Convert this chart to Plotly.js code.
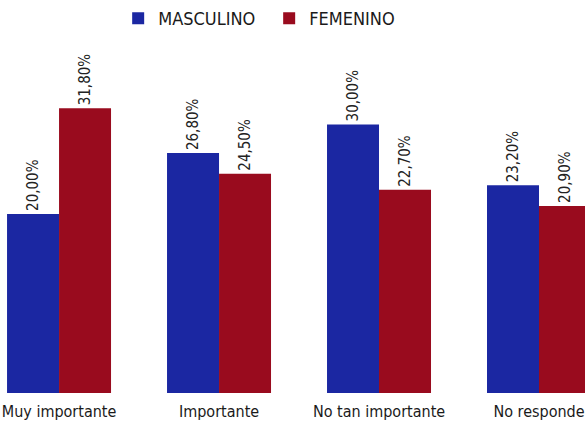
<!DOCTYPE html>
<html>
<head>
<meta charset="utf-8">
<script src="https://cdn.plot.ly/plotly-3.0.1.min.js"></script>
<style>html,body{margin:0;padding:0;background:#fff;}#chart{width:585px;height:428px;}</style>
</head>
<body>
<div id="chart"></div>
<script>
const categories = ["Muy importante", "Importante", "No tan importante", "No responde"];
const masculino = [20.0, 26.8, 30.0, 23.2];
const femenino = [31.8, 24.5, 22.7, 20.9];
const seriesNames = ["MASCULINO", "FEMENINO"];

const FONT = '"Liberation Sans Narrow", "DejaVu Sans Condensed", "Arial Narrow", sans-serif';
const fmt = v => v.toFixed(2).replace('.', ',') + '%';

const traces = [
  {type: 'bar', name: seriesNames[0], x: categories, y: masculino,
   marker: {color: '#1b27a2'}, text: masculino.map(fmt), textposition: 'outside',
   textangle: -90, textfont: {family: FONT, size: 15, color: '#222'}, cliponaxis: false},
  {type: 'bar', name: seriesNames[1], x: categories, y: femenino,
   marker: {color: '#990b1e'}, text: femenino.map(fmt), textposition: 'outside',
   textangle: -90, textfont: {family: FONT, size: 15, color: '#222'}, cliponaxis: false}
];

const layout = {
  width: 585, height: 428,
  margin: {l: 0, r: 0, t: 0, b: 35},
  paper_bgcolor: '#fff', plot_bgcolor: '#fff',
  font: {family: FONT, size: 16, color: '#1a1a1a'},
  barmode: 'group', bargap: 0.35, bargroupgap: 0,
  showlegend: true,
  legend: {orientation: 'h', x: 0.202, xanchor: 'left', y: 1, yanchor: 'top',
           entrywidth: 106, entrywidthmode: 'pixels',
           font: {family: FONT, size: 18, color: '#1a1a1a'}, bgcolor: 'rgba(0,0,0,0)'},
  xaxis: {type: 'category', range: [-0.369, 3.2875], showgrid: false, zeroline: false,
          showline: false, ticks: '', ticklabelstandoff: 7,
          tickfont: {family: FONT, size: 16, color: '#1a1a1a'}},
  yaxis: {range: [0, 43.9], visible: false, showgrid: false, zeroline: false}
};

Plotly.newPlot('chart', traces, layout, {displayModeBar: false, staticPlot: true});
</script>
</body>
</html>
